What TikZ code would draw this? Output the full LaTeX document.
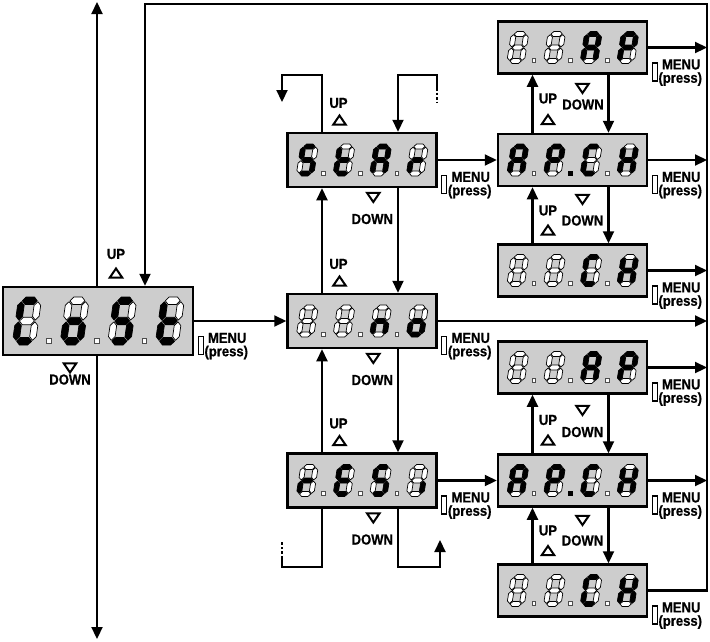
\documentclass[tikz,border=0pt]{standalone}
\usepackage{fontspec}
\usepackage{xstring}
\usetikzlibrary{arrows.meta}
\newfontfamily\lblfont[FakeStretch=0.9,FakeBold=0.6]{Liberation Sans}
\definecolor{lcd}{RGB}{205,205,205}
\tikzset{
 conn/.style={line width=2.2pt},
 arr/.style={conn,-{Triangle[length=12pt,width=11pt]}},
 dispbox/.style={draw, line width=2.5pt, fill=lcd, inner sep=0pt, minimum width=149pt, minimum height=#1},
 lit/.style={fill=black, draw=black, line width=0.7pt, line join=round},
 off/.style={fill=white, draw=black, line width=0.7pt, line join=round},
 dotoff/.style={fill=white, draw=black!70, line width=0.5pt},
 dotlit/.style={fill=black, draw=black, line width=0.5pt},
 lbl/.style={font={\lblfont\fontsize{14.5pt}{14.5pt}\bfseries\selectfont}, inner sep=0pt},
 tri/.style={line width=2pt, line join=miter},
 menurect/.style={draw, fill=white, line width=1.3pt, minimum width=5pt, minimum height=18pt, inner sep=0pt},
}
\newcommand\sg[2]{\IfSubStr{#1}{#2}{\def\segst{lit}}{\def\segst{off}}}
\newcommand\digit[4]{%
 \begin{scope}[shift={(#2,#3)},#1,x=1pt,y=1pt,xslant=0.16]
 \sg{#4}{a}\filldraw[\segst] (3.1,29.5)--(5.6,32)--(11.9,32)--(14.4,29.5)--(11.9,27)--(5.6,27)--cycle;
 \sg{#4}{g}\filldraw[\segst] (3.1,16)--(5.6,18.5)--(11.9,18.5)--(14.4,16)--(11.9,13.5)--(5.6,13.5)--cycle;
 \sg{#4}{d}\filldraw[\segst] (3.1,2.5)--(5.6,5)--(11.9,5)--(14.4,2.5)--(11.9,0)--(5.6,0)--cycle;
 \sg{#4}{e}\filldraw[\segst] (2.5,3.1)--(5,5.6)--(5,12.9)--(2.5,15.4)--(0,12.9)--(0,5.6)--cycle;
 \sg{#4}{c}\filldraw[\segst] (15,3.1)--(17.5,5.6)--(17.5,12.9)--(15,15.4)--(12.5,12.9)--(12.5,5.6)--cycle;
 \sg{#4}{f}\filldraw[\segst] (2.5,16.6)--(5,19.1)--(5,26.4)--(2.5,28.9)--(0,26.4)--(0,19.1)--cycle;
 \sg{#4}{b}\filldraw[\segst] (15,16.6)--(17.5,19.1)--(17.5,26.4)--(15,28.9)--(12.5,26.4)--(12.5,19.1)--cycle;
 \end{scope}}
\newcommand\dotsq[4]{\filldraw[#4] ({#1-#3/2},{#2-#3/2}) rectangle ({#1+#3/2},{#2+#3/2});}
\newcommand\smalldisp[8]{%
 \begin{scope}[shift={(#1.center)}]
 \digit{}{-66}{16}{#2}\digit{}{-29.3}{16}{#3}\digit{}{7.3}{16}{#4}\digit{}{44}{16}{#5}
 \dotsq{-38.7}{13}{3.6}{#6}\dotsq{-2}{13}{3.6}{#7}\dotsq{34.7}{13}{3.6}{#8}
 \end{scope}}
\newcommand\tup[2]{\draw[tri] ({#1-6.3},{#2+4.2}) -- ({#1+6.3},{#2+4.2}) -- (#1,{#2-5}) -- cycle;}
\newcommand\tdn[2]{\draw[tri] ({#1-6.3},{#2-4.2}) -- ({#1+6.3},{#2-4.2}) -- (#1,{#2+5}) -- cycle;}
\newcommand\menulbl[2]{%
 \node[menurect] (#2r) at ([xshift=6.5pt,yshift=-24.5pt]#1.east) {};
 \node[lbl] (#2m) at ([xshift=33pt,yshift=-17pt]#1.east) {MENU};
 \node[lbl] (#2p) at ([xshift=32pt,yshift=-31.5pt]#1.east) {(press)};}
\begin{document}
\begin{tikzpicture}[x=1pt,y=-1pt]
\useasboundingbox (0,0) rectangle (710,641);
% display boxes
\node[dispbox=68pt, minimum width=190pt] (cost) at (98,321) {};
\node[dispbox=54pt] (star) at (362,160) {};
\node[dispbox=54pt] (no) at (362,321) {};
\node[dispbox=54pt] (rest) at (362,480.5) {};
\node[dispbox=52pt] (apA) at (572.5,47.5) {};
\node[dispbox=52pt] (apcA) at (572.5,160) {};
\node[dispbox=52pt] (chA) at (572.5,270.5) {};
\node[dispbox=52pt] (apB) at (572.5,367.5) {};
\node[dispbox=52pt] (apcB) at (572.5,480.5) {};
\node[dispbox=52pt] (chB) at (572.5,590.5) {};
% free ends
\coordinate (ltop) at (97,2);
\coordinate (lbot) at (97,639);
\coordinate (rtop) at (707,4);
\coordinate (a1t) at (282,75);
\coordinate (a1) at (282,102);
\coordinate (d1t) at (437,75);
\coordinate (d1m) at (437,88);
\coordinate (d1) at (437,102);
\coordinate (b1b) at (282,567);
\coordinate (b1m) at (282,558);
\coordinate (b1) at (282,542);
\coordinate (b2b) at (440,567);
\coordinate (b2) at (440,540);
% connectors
\draw[arr] ([xshift=-1pt]cost.north) -- (ltop);
\draw[arr] ([xshift=-1pt]cost.south) -- (lbot);
\draw[arr] (chB.east) -| (rtop) -| ([xshift=47pt]cost.north);
\draw[arr] (cost.east) -- (no.west);
\draw[arr] (no.east) -- (no.east -| rtop);
\foreach \n in {apA,apcA,chA,apB,apcB} \draw[arr] (\n.east) -- (\n.east -| rtop);
\draw[arr] (star.east) -- (apcA.west);
\draw[arr] (rest.east) -- (apcB.west);
\draw[arr] ([xshift=-40pt]no.north) -- ([xshift=-40pt]star.south);
\draw[arr] ([xshift=-40pt]rest.north) -- ([xshift=-40pt]no.south);
\draw[arr] ([xshift=36pt]star.south) -- ([xshift=36pt]no.north);
\draw[arr] ([xshift=36pt]no.south) -- ([xshift=36pt]rest.north);
\draw[arr] ([xshift=-40pt]star.north) |- (a1t) -- (a1);
\draw[arr] (d1m) -- (d1t) -| ([xshift=36pt]star.north);
\draw[conn, dash pattern=on 2.5pt off 2pt] (d1m) -- (d1);
\draw[conn] ([xshift=-40pt]rest.south) |- (b1b) -- (b1m);
\draw[conn, dash pattern=on 2.5pt off 2pt] (b1m) -- (b1);
\draw[arr] ([xshift=36pt]rest.south) |- (b2b) -- (b2);
\draw[arr] ([xshift=-40pt]apcA.north) -- ([xshift=-40pt]apA.south);
\draw[arr] ([xshift=36pt]apA.south) -- ([xshift=36pt]apcA.north);
\draw[arr] ([xshift=-40pt]chA.north) -- ([xshift=-40pt]apcA.south);
\draw[arr] ([xshift=36pt]apcA.south) -- ([xshift=36pt]chA.north);
\draw[arr] ([xshift=-40pt]apcB.north) -- ([xshift=-40pt]apB.south);
\draw[arr] ([xshift=36pt]apB.south) -- ([xshift=36pt]apcB.north);
\draw[arr] ([xshift=-40pt]chB.north) -- ([xshift=-40pt]apcB.south);
\draw[arr] ([xshift=36pt]apcB.south) -- ([xshift=36pt]chB.north);
% digits
\begin{scope}[shift={(cost.center)}]
 \digit{xscale=1.32,yscale=1.5}{-86}{24}{adef}
 \digit{xscale=1.32,yscale=1.5}{-38.3}{24}{cdeg}
 \digit{xscale=1.32,yscale=1.5}{9.3}{24}{acdfg}
 \digit{xscale=1.32,yscale=1.5}{57}{24}{defg}
 \dotsq{-49}{19.5}{4.7}{dotoff}\dotsq{-1.3}{19.5}{4.7}{dotoff}\dotsq{46.3}{19.5}{4.7}{dotoff}
\end{scope}
\smalldisp{star}{acdfg}{defg}{abcefg}{eg}{dotoff}{dotoff}{dotoff}
\smalldisp{no}{-}{-}{ceg}{cdeg}{dotoff}{dotoff}{dotoff}
\smalldisp{rest}{eg}{adefg}{acdfg}{c}{dotoff}{dotoff}{dotoff}
\smalldisp{apA}{-}{-}{abcefg}{abefg}{dotoff}{dotoff}{dotoff}
\smalldisp{apcA}{abcefg}{abefg}{adef}{bcefg}{dotoff}{dotlit}{dotoff}
\smalldisp{chA}{-}{-}{adef}{bcefg}{dotoff}{dotoff}{dotoff}
\smalldisp{apB}{-}{-}{abcefg}{abefg}{dotoff}{dotoff}{dotoff}
\smalldisp{apcB}{abcefg}{abefg}{adef}{bcefg}{dotoff}{dotlit}{dotoff}
\smalldisp{chB}{-}{-}{adef}{bcefg}{dotoff}{dotoff}{dotoff}
% UP / DOWN labels
\node[lbl] (upc) at (116,254) {UP}; \tup{116}{273.5}
\tdn{70}{367.5} \node[lbl] (dnc) at (70,379.5) {DOWN};
\node[lbl] (up1) at (338.5,103) {UP}; \tup{339.5}{120.5}
\tdn{373.3}{197} \node[lbl] (dn1) at (372.3,219) {DOWN};
\node[lbl] (up2) at (338.5,264) {UP}; \tup{339.5}{281.5}
\tdn{373.3}{358} \node[lbl] (dn2) at (372.3,380) {DOWN};
\node[lbl] (up3) at (338.5,423.5) {UP}; \tup{339.5}{441}
\tdn{373.3}{517.5} \node[lbl] (dn3) at (372.3,539.5) {DOWN};
\node[lbl] (up4) at (548,98.5) {UP}; \tup{548}{120}
\tdn{582.5}{88} \node[lbl] (dn4) at (583,104.5) {DOWN};
\node[lbl] (up5) at (548,210.5) {UP}; \tup{548}{230.5}
\tdn{582.5}{199} \node[lbl] (dn5) at (582.5,220.5) {DOWN};
\node[lbl] (up6) at (548,420) {UP}; \tup{548}{440.5}
\tdn{582.5}{410} \node[lbl] (dn6) at (582.5,432) {DOWN};
\node[lbl] (up7) at (548,530.5) {UP}; \tup{548}{551}
\tdn{582.5}{520} \node[lbl] (dn7) at (582.5,540.5) {DOWN};
% MENU (press) labels
\menulbl{cost}{mc}
\menulbl{star}{m1}
\menulbl{no}{m2}
\menulbl{rest}{m3}
\menulbl{apA}{m4}
\menulbl{apcA}{m5}
\menulbl{chA}{m6}
\menulbl{apB}{m7}
\menulbl{apcB}{m8}
\menulbl{chB}{m9}
\end{tikzpicture}
\end{document}
